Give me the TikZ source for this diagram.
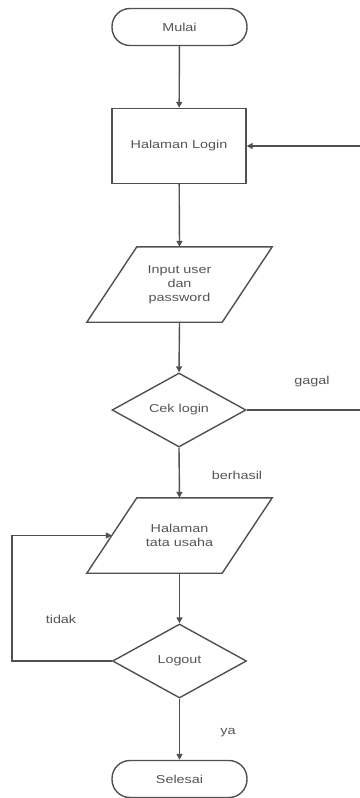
\documentclass[tikz,border=0pt]{standalone}
\usepackage{fontspec}
\setmainfont[FakeStretch=1.25]{Liberation Sans}
\usetikzlibrary{arrows.meta,shapes.geometric}
\definecolor{ln}{HTML}{505050}
\definecolor{tx}{HTML}{555555}
\tikzset{
  every node/.style={font=\fontsize{11.5}{14}\selectfont, text=tx, align=center},
  flow/.style={draw=ln, line width=1.4pt},
  arr/.style={flow, -{Triangle[width=6pt,length=6pt]}},
  term/.style={draw=ln, line width=1.4pt, rectangle, rounded corners=18pt, minimum width=135pt, minimum height=37pt, inner sep=0pt},
  procbox/.style={draw=ln, line width=1.4pt, rectangle, minimum width=134pt, minimum height=75pt, inner sep=0pt},
  iobox/.style={rectangle, minimum width=135pt, minimum height=75pt, inner sep=0pt},
  decide/.style={draw=ln, line width=1.4pt, diamond, aspect=1.8, minimum width=134pt, minimum height=74pt, inner sep=0pt},
  lbl/.style={inner sep=0pt}
}
\begin{document}
\begin{tikzpicture}[x=1pt,y=-1pt]
\useasboundingbox (0,0) rectangle (359,798);
\node[term] (mulai) at (179.5,27) {Mulai};
\node[procbox] (login) at (179,146) {Halaman Login};
\node[iobox] (input) at (179.5,284.5) {Input user\\dan\\password};
\draw[flow] ([xshift=-25pt]input.south west) -- ([xshift=25pt]input.north west) -- ([xshift=25pt]input.north east) -- ([xshift=-25pt]input.south east) -- cycle;
\node[decide] (cek) at (179,410) {Cek login};
\node[iobox] (tu) at (179.5,535.5) {Halaman\\tata usaha};
\draw[flow] ([xshift=-25pt]tu.south west) -- ([xshift=25pt]tu.north west) -- ([xshift=25pt]tu.north east) -- ([xshift=-25pt]tu.south east) -- cycle;
\node[decide] (logout) at (179.5,661) {Logout};
\node[term] (selesai) at (179.5,779) {Selesai};
\coordinate (r1) at (360,146);
\coordinate (r2) at (360,410);
\coordinate (l1) at (12,661);
\draw[arr] (mulai) -- (login);
\draw[arr] (r1) -- (login.east);
\draw[arr] (login) -- (input.north);
\draw[arr] (input.south) -- (cek.north);
\draw[flow] (cek.east) -- (r2);
\draw[arr] (cek.south) -- (tu.north);
\draw[arr] (tu.south) -- (logout.north);
\draw[arr] (logout.west) -- (l1) |- (tu.west);
\draw[arr] (logout.south) -- (selesai.north);
\node[lbl] (gagal) at (312,382) {gagal};
\node[lbl] (berhasil) at (237,475) {berhasil};
\node[lbl] (tidak) at (61,619) {tidak};
\node[lbl] (ya) at (228,733) {ya};
\end{tikzpicture}
\end{document}
